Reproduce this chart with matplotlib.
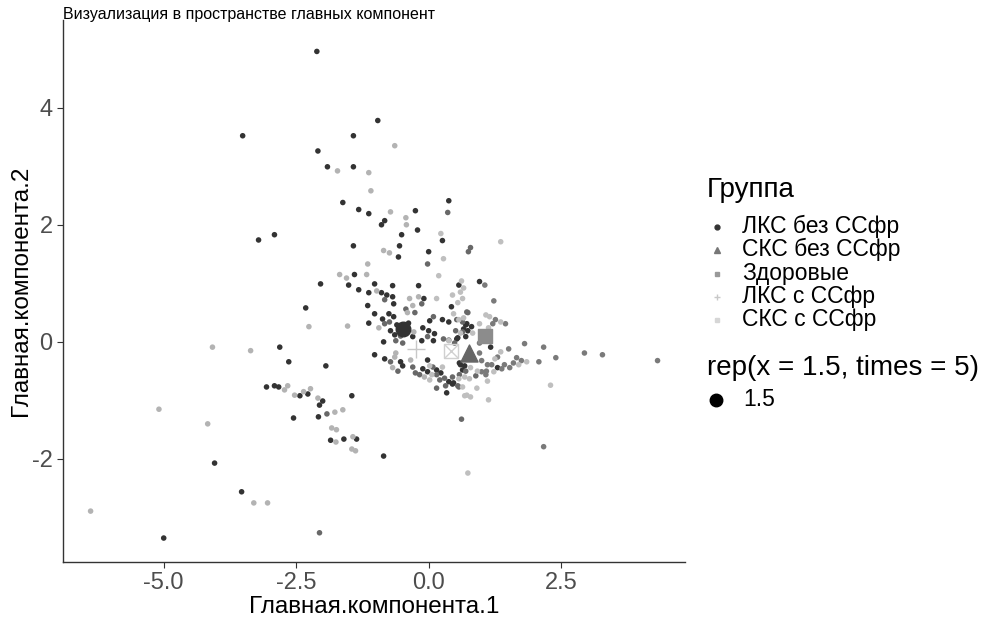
import matplotlib
matplotlib.use("Agg")
import matplotlib.pyplot as plt
from matplotlib.lines import Line2D

plt.rcParams['font.family'] = ['Liberation Sans', 'DejaVu Sans']

groups = ['ЛКС без ССфр', 'СКС без ССфр', 'Здоровые', 'ЛКС с ССфр', 'СКС с ССфр']
colors = ['#333333', '#686868', '#7a7a7a', '#b3b3b3', '#bfbfbf']

# ЛКС без ССфр
g1_x = [-2.11, -3.51, -0.96, -2.09, -1.91, -1.42, -1.42, -1.62, -1.32, -1.13, -3.21, -2.91,
        -1.42, -1.40, 0.38, -0.25, -0.83, -0.89, -0.21, -0.51, -0.55, 0.26, 0.00, -0.57,
        -2.04, -1.51, -1.32, -1.02, -1.13, -0.89, -0.79, -0.68, -0.68, -0.19, -0.09, 0.57,
        0.96, -2.32, -1.15, -1.02, -1.13, -1.02, -2.81, -2.64, -1.94, -3.06, -2.91, -2.83,
        -2.43, -2.28, -2.00, -2.06, -1.45, -2.55, -2.08, -1.85, -1.60, -1.36, -4.04, -3.53,
        -5.00, -0.85, -0.66, -0.87, -0.75, -0.66, -0.72, -0.60, -0.38, -0.64, -0.30, 0.02,
        -0.11, 0.00, 0.11, 0.26, 0.38, 0.43, 0.70, 0.66, 0.74, 0.81, 0.72, 0.70, 0.55,
        -0.85, -0.13, 0.09, 0.53, -0.53, -0.49, -0.11, -0.02, -0.02, 0.15, 0.23, 0.38,
        0.47, 0.34, 0.45, 0.58, 0.68, 0.64, 1.17, 1.30, -0.83, 0.60]
g1_y = [4.96, 3.52, 3.78, 3.26, 2.99, 3.52, 2.99, 2.38, 2.26, 2.19, 1.74, 1.83,
        1.64, 1.15, 2.41, 2.24, 2.07, 2.00, 1.91, 1.83, 1.64, 1.73, 1.54, 1.45,
        0.99, 0.97, 0.89, 0.99, 0.84, 0.84, 0.80, 0.77, 0.96, 0.96, 0.74, 0.97,
        1.03, 0.58, 0.62, 0.48, 0.32, -0.22, -0.09, -0.34, -0.41, -0.77, -0.75, -0.77,
        -0.92, -0.89, -1.01, -1.08, -0.92, -1.30, -1.28, -1.68, -1.66, -1.66, -2.07, -2.56,
        -3.35, -1.95, 0.65, 0.39, 0.48, 0.43, 0.19, 0.29, 0.32, 0.12, 0.09, 0.36,
        0.24, 0.19, 0.14, 0.38, 0.34, 0.60, 0.29, 0.22, 0.19, 0.26, 0.31, 0.09, 0.07,
        0.00, 0.02, 0.02, 0.05, -0.34, -0.41, -0.46, -0.51, -0.31, -0.48, -0.53, -0.68,
        -0.70, -0.87, -0.72, -0.36, -0.41, -0.48, -0.09, -0.44, -0.29, -0.39]

# СКС без ССфр
g2_x = [0.36, 0.79, 0.75, -0.02, -1.92, -2.06, -0.83, -0.13, -0.43, -0.26, -0.83, -0.74,
        -0.53, 0.09, 0.64, 0.74, -0.62, -0.49, -0.02, 0.28, 0.64, 0.51, -0.72, -0.58,
        -0.30, -0.17, -0.25, 0.08, 0.15, 0.30, 0.21, 0.32, 0.15, 0.55, 0.45, 0.70,
        0.62, 0.72, 0.53, 0.38, 0.49, 0.89, 0.58, 0.57]
g2_y = [2.21, 1.61, 1.54, 1.33, -1.23, -3.26, 0.72, 0.65, 0.56, 0.50, 0.31, 0.34,
        0.10, 0.43, 0.34, 0.50, 0.02, -0.02, 0.09, 0.05, 0.17, 0.19, -0.34, -0.50,
        -0.43, -0.56, -0.53, -0.43, -0.56, -0.62, -0.65, -0.75, -0.79, -0.75, -0.60, -0.50,
        -1.32, 0.51, 0.38, 0.03, -0.02, -0.58, -0.56, -0.77]

# Здоровые
g3_x = [1.06, 1.23, 1.26, 1.45, 1.21, 0.96, 1.51, 1.30, 1.81, 2.17, 2.40, 2.08,
        2.94, 3.28, 4.32, 1.75, 1.66, 1.60, 1.53, 1.43, 1.38, 1.19, 1.11, 1.09,
        1.00, 0.96, 1.00, 1.08, 2.17]
g3_y = [0.97, 0.70, 0.38, 0.31, 0.31, -0.02, -0.12, -0.26, -0.03, -0.09, -0.27, -0.34,
        -0.19, -0.22, -0.32, -0.32, -0.27, -0.36, -0.44, -0.39, -0.46, -0.39, -0.39, -0.50,
        -0.32, -0.19, -0.51, -0.56, -1.79]

# ЛКС с ССфр
g4_x = [-1.72, -1.13, -1.09, -1.15, -1.68, -1.55, -1.17, -0.64, -0.72, -0.43, -0.42, -0.85,
        -0.74, -0.98, -0.36, -0.19, -2.26, -1.53, -0.94, -4.08, -3.36, -2.66, -2.72, -2.53,
        -2.36, -2.23, -2.09, -1.77, -1.62, -1.83, -1.74, -1.75, -1.43, -1.45, -1.38, -5.09,
        -4.17, -3.30, -3.04, -6.38, -0.30, -0.40, -0.28, -0.62, -0.64, -0.34, -0.68, -0.08]
g4_y = [2.92, 2.89, 2.58, 1.33, 1.15, 1.09, 1.15, 3.35, 2.22, 2.12, 2.00, 1.56,
        1.52, 0.87, 0.74, 0.77, 0.26, 0.27, 0.24, -0.09, -0.15, -0.75, -0.82, -0.91,
        -0.85, -0.80, -0.96, -1.20, -1.16, -1.47, -1.50, -1.71, -1.62, -1.83, -1.86, -1.15,
        -1.40, -2.75, -2.75, -2.89, 0.62, 0.50, 0.17, -0.19, -0.26, -0.31, -0.44, -0.60]

# СКС с ССфр
g5_x = [0.23, 1.36, 0.28, 0.19, 0.15, 0.45, 0.62, 0.66, 0.60, 0.64, 0.55, 0.47,
        0.57, 0.38, 0.02, 0.26, 0.06, 0.02, 0.57, 0.68, 0.66, 0.96, 1.08, 1.15,
        1.36, 1.13, 0.60, 0.83, 1.36, 1.25, 1.85, 1.70, 1.23, 0.92, 0.79, 0.77,
        0.68, 1.11, 0.91, 0.72, 0.79, 0.64, 1.13, 2.30, 0.74]
g5_y = [1.85, 1.71, 1.42, 1.13, 0.74, 0.80, 1.04, 0.92, 0.85, 0.74, 0.67, 0.48,
        0.38, 0.02, -0.41, -0.43, -0.56, -0.65, -0.63, -0.92, 0.41, 0.31, 0.46, 0.43,
        0.34, 0.24, 0.15, 0.15, -0.17, -0.29, -0.34, -0.39, -0.51, -0.50, -0.44, -0.63,
        -0.60, -0.67, -0.79, -0.91, -0.94, -0.77, -0.99, -0.74, -2.24]

# group centres (big markers)
centers_x = [-0.49, 0.77, 1.06, -0.23, 0.42]
centers_y = [0.22, -0.19, 0.10, -0.12, -0.15]

fig = plt.figure(figsize=(9.85, 6.19), dpi=100)
ax = fig.add_axes([0.064, 0.092, 0.631, 0.876])

all_x = [g1_x, g2_x, g3_x, g4_x, g5_x]
all_y = [g1_y, g2_y, g3_y, g4_y, g5_y]
for gx, gy, c in zip(all_x, all_y, colors):
    ax.scatter(gx, gy, s=16, color=c, edgecolors='none', zorder=2)

# centroids
ax.scatter(centers_x[0], centers_y[0], s=110, marker='o', color='#333333', zorder=3)
ax.scatter(centers_x[1], centers_y[1], s=150, marker='^', color='#666666', zorder=3)
ax.scatter(centers_x[2], centers_y[2], s=110, marker='s', color='#8c8c8c', zorder=3)
ax.scatter(centers_x[3], centers_y[3], s=150, marker='+', color='#c8c8c8', linewidths=1.0, zorder=3)
ax.scatter(centers_x[4], centers_y[4], s=100, marker='s', facecolors='none', edgecolors='#d0d0d0', linewidths=1.0, zorder=3)
ax.scatter(centers_x[4], centers_y[4], s=100, marker='x', color='#d0d0d0', linewidths=1.0, zorder=3)

ax.set_xlim(-6.9, 4.83)
ax.set_ylim(-3.76, 5.5)
ax.set_xticks([-5.0, -2.5, 0.0, 2.5])
ax.set_xticklabels(['-5.0', '-2.5', '0.0', '2.5'])
ax.set_yticks([-2, 0, 2, 4])
ax.set_yticklabels(['-2', '0', '2', '4'])
for side in ['top', 'right']:
    ax.spines[side].set_visible(False)
for side in ['left', 'bottom']:
    ax.spines[side].set_color('#333333')
    ax.spines[side].set_linewidth(1.0)
ax.tick_params(colors='#333333', labelcolor='#4d4d4d', labelsize=17, length=4, width=0.8)
ax.set_xlabel('Главная.компонента.1', fontsize=17.5, labelpad=1)
ax.set_ylabel('Главная.компонента.2', fontsize=17.5, labelpad=0)

fig.text(0.064, 0.988, 'Визуализация в пространстве главных компонент', fontsize=11.5, va='top', ha='left')

# legend: shape / colour key
W, H = 985.0, 619.0
key_marks = [('o', 3.5, '#333333'), ('^', 4, '#777777'), ('s', 3.5, '#999999'),
             ('+', 5, '#c8c8c8'), ('s', 3.5, '#d6d6d6')]
label_base = [233, 256, 280, 303, 326]
fig.text(707 / W, 1 - 197 / H, 'Группа', fontsize=20, va='baseline', ha='left')
for (m, ms, c), lab, yb in zip(key_marks, groups, label_base):
    fig.text(742 / W, 1 - yb / H, lab, fontsize=16.5, va='baseline', ha='left')
    fig.add_artist(Line2D([717 / W], [1 - (yb - 6) / H], transform=fig.transFigure,
                          linestyle='none', marker=m, markersize=ms, color=c))

# legend: size key
fig.text(707 / W, 1 - 375 / H, 'rep(x = 1.5, times = 5)', fontsize=20, va='baseline', ha='left')
fig.text(743 / W, 1 - 406 / H, '1.5', fontsize=16.5, va='baseline', ha='left')
fig.add_artist(Line2D([716 / W], [1 - 400 / H], transform=fig.transFigure,
                      linestyle='none', marker='o', markersize=9, color='black'))

fig.savefig('out.png', dpi=100)
